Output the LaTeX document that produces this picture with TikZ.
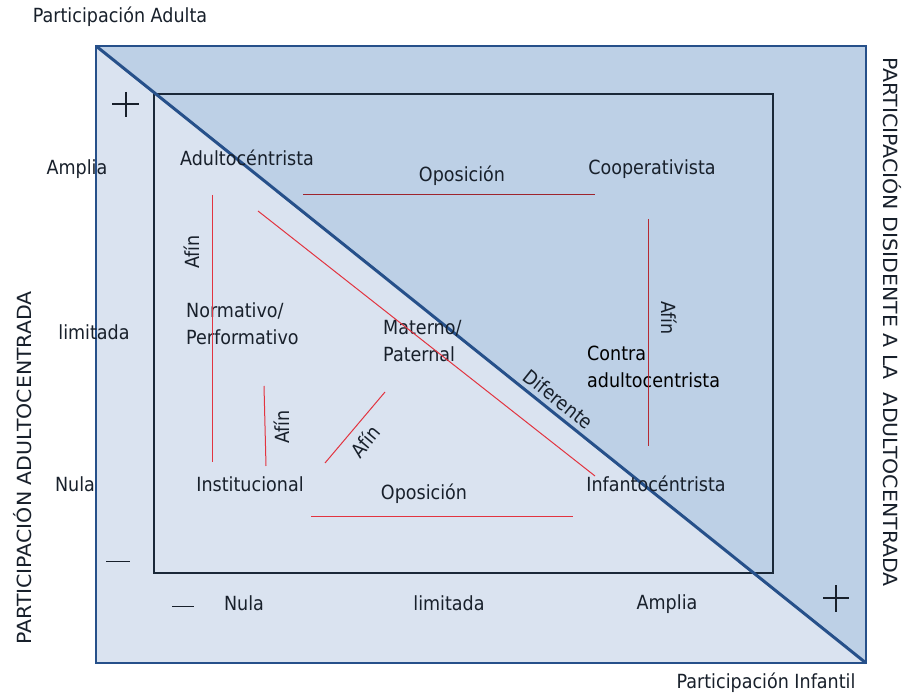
\documentclass[tikz,border=0pt]{standalone}
\usepackage{fontspec}
\setmainfont[FakeStretch=0.9]{DejaVu Sans}
\newfontfamily\capsfont[FakeStretch=1.05]{DejaVu Sans}
\begin{document}
\begin{tikzpicture}[x=1pt,y=-1pt,
  lbl/.style={inner sep=0pt, text=txt, font=\fontsize{19.5}{27}\selectfont, text height=14pt, text depth=4pt},
  caps/.style={lbl, font=\capsfont\fontsize{19.5}{27}\selectfont},
  mlbl/.style={lbl, align=left, anchor=west, text height=, text depth=},
  redl/.style={draw=redc, line width=1pt},
  pluss/.style={draw=txt, line width=1.4pt}]
\definecolor{txt}{HTML}{18202B}
\definecolor{lightb}{HTML}{DAE3F0}
\definecolor{darkb}{HTML}{BDD0E6}
\definecolor{bordb}{HTML}{26508A}
\definecolor{innerb}{HTML}{1A2838}
\definecolor{redc}{HTML}{E23440}
\path[use as bounding box, fill=white] (0,0) rectangle (911,700);
% backgrounds
\coordinate (TL) at (96,46);
\coordinate (TR) at (866,46);
\coordinate (BR) at (866,663);
\coordinate (BL) at (96,663);
\fill[lightb] (TL) rectangle (BR);
\fill[darkb] (TL) -- (TR) -- (BR) -- cycle;
\draw[innerb, line width=1.8pt] (154,94) rectangle (773,573);
\draw[bordb, line width=2.6pt] (TL) rectangle (BR);
\draw[bordb, line width=3pt] (TL) -- (BR);
% plus / minus
\draw[pluss] (112,104) -- (139,104) (126,92) -- (126,117);
\draw[pluss] (823,598) -- (849,598) (836,585) -- (836,612);
\draw[txt, line width=1pt] (106,561) -- (130,561);
\draw[txt, line width=1pt] (172,606) -- (194,606);
% axis titles
\node[lbl] (pa) at (120,18) {Participación Adulta};
\node[lbl] (pi) at (766,683) {Participación Infantil};
\node[caps, rotate=90] (pac) at (26,468) {PARTICIPACIÓN ADULTOCENTRADA};
\node[caps, rotate=-90] (pda) at (888,322) {PARTICIPACIÓN DISIDENTE A LA \ ADULTOCENTRADA};
% scale labels
\node[lbl] (ya) at (77,170) {Amplia};
\node[lbl] (yl) at (94,335) {limitada};
\node[lbl] (yn) at (75,487) {Nula};
\node[lbl] (xn) at (244,605) {Nula};
\node[lbl] (xl) at (449,605) {limitada};
\node[lbl] (xa) at (667,604) {Amplia};
% categories
\node[lbl] (adu) at (247,161) {Adultocéntrista};
\node[lbl] (coop) at (652,170) {Cooperativista};
\node[mlbl] (norm) at (186,324) {Normativo/\\Performativo};
\node[mlbl] (mat) at (383,341) {Materno/\\Paternal};
\node[mlbl, text=black] (contra) at (587,367) {Contra\\adultocentrista};
\node[lbl] (inst) at (250,487) {Institucional};
\node[lbl] (inf) at (656,487) {Infantocéntrista};
% relation lines
\coordinate (a1) at (212,195); \coordinate (a2) at (212,462);
\coordinate (b1) at (264,386); \coordinate (b2) at (266,466);
\coordinate (c1) at (325,463); \coordinate (c2) at (385,392);
\coordinate (d1) at (258,211); \coordinate (d2) at (595,476);
\coordinate (e1) at (303,195); \coordinate (e2) at (595,195);
\coordinate (f1) at (311,517); \coordinate (f2) at (573,517);
\coordinate (g1) at (648,219); \coordinate (g2) at (648,446);
\draw[redl] (a1) -- (a2);
\draw[redl] (b1) -- (b2);
\draw[redl] (c1) -- (c2);
\draw[redl] (d1) -- (d2);
\draw[redl, draw=redc!70!black] (e1) -- (e2);
\draw[redl] (f1) -- (f2);
\draw[redl, draw=redc!80!black] (g1) -- (g2);
% relation labels
\node[lbl] (op1) at (462,177) {Oposición};
\node[lbl] (op2) at (424,495) {Oposición};
\node[lbl, rotate=90] (af1) at (194,252) {Afín};
\node[lbl, rotate=90] (af2) at (284,427) {Afín};
\node[lbl, rotate=50] (af3) at (367,443) {Afín};
\node[lbl, rotate=-90] (af4) at (666,318) {Afín};
\node[lbl, rotate=-38.7] (dif) at (557,401) {Diferente};
\end{tikzpicture}
\end{document}
